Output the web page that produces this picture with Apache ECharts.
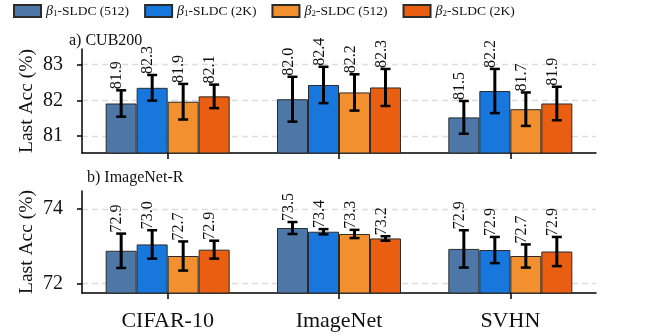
<!DOCTYPE html>
<html>
<head>
<meta charset="utf-8">
<script src="https://cdn.jsdelivr.net/npm/echarts@6/dist/echarts.min.js"></script>
<style>
  html, body { margin: 0; padding: 0; background: #fff; }
  #chart { width: 650px; height: 336px; }
</style>
</head>
<body>
<div id="chart"></div>
<script>
const categories = ["CIFAR-10", "ImageNet", "SVHN"]
const seriesNames = ["β1-SLDC (512)", "β1-SLDC (2K)", "β2-SLDC (512)", "β2-SLDC (2K)"]
const colors = ["#4c77a6", "#1877dd", "#f28f2f", "#e95e10"]

// a) CUB200
const cubMean = [
  [81.91, 82.03, 81.52],
  [82.35, 82.43, 82.26],
  [81.96, 82.22, 81.75],
  [82.11, 82.36, 81.91],
]
const cubErr = [
  [0.37, 0.63, 0.46],
  [0.36, 0.51, 0.62],
  [0.50, 0.51, 0.47],
  [0.33, 0.52, 0.47],
]
const cubLabels = [
  ["81.9", "82.0", "81.5"],
  ["82.3", "82.4", "82.2"],
  ["81.9", "82.2", "81.7"],
  ["82.1", "82.3", "81.9"],
]

// b) ImageNet-R
const imrMean = [
  [72.88, 73.49, 72.93],
  [73.05, 73.39, 72.90],
  [72.74, 73.33, 72.74],
  [72.91, 73.21, 72.86],
]
const imrErr = [
  [0.46, 0.16, 0.50],
  [0.38, 0.07, 0.35],
  [0.39, 0.11, 0.31],
  [0.24, 0.06, 0.39],
]
const imrLabels = [
  ["72.9", "73.5", "72.9"],
  ["73.0", "73.4", "72.9"],
  ["72.7", "73.3", "72.7"],
  ["72.9", "73.2", "72.9"],
]

const cubTicks = [81, 82, 83]
const imrTicks = [72, 74]

const serif = "Liberation Serif"
const barWidth = 31
const offsets = [-1.5, -0.5, 0.5, 1.5].map((k) => k * barWidth)

const chart = echarts.init(document.getElementById("chart"), null, { renderer: "canvas" })

const errRender = (offset, labels) => (params, api) => {
  const c = api.value(0)
  const base = api.coord([c, api.value(1)])
  const x = base[0] + offset
  const lo = api.coord([c, api.value(2)])[1]
  const hi = api.coord([c, api.value(3)])[1]
  const cap = 5
  return {
    type: "group",
    children: [
      { type: "line", shape: { x1: x, y1: lo, x2: x, y2: hi }, style: { stroke: "#000", lineWidth: 3 } },
      { type: "line", shape: { x1: x - cap, y1: lo, x2: x + cap, y2: lo }, style: { stroke: "#000", lineWidth: 2.5 } },
      { type: "line", shape: { x1: x - cap, y1: hi, x2: x + cap, y2: hi }, style: { stroke: "#000", lineWidth: 2.5 } },
      {
        type: "text",
        x: x - 4,
        y: hi - 1,
        rotation: Math.PI / 2,
        style: {
          text: labels[params.dataIndex],
          align: "left",
          verticalAlign: "middle",
          font: `16px "${serif}"`,
          fill: "#111",
        },
      },
    ],
  }
}

const series = []
const panels = [
  { mean: cubMean, err: cubErr, labels: cubLabels },
  { mean: imrMean, err: imrErr, labels: imrLabels },
]
panels.forEach((p, gi) => {
  p.mean.forEach((vals, si) => {
    series.push({
      name: seriesNames[si],
      type: "bar",
      xAxisIndex: gi,
      yAxisIndex: gi,
      barWidth,
      barGap: "0%",
      itemStyle: { color: colors[si], borderColor: "#2b2b2b", borderWidth: 1 },
      data: vals,
      z: 2,
    })
  })
  p.mean.forEach((vals, si) => {
    series.push({
      type: "custom",
      xAxisIndex: gi,
      yAxisIndex: gi,
      renderItem: errRender(offsets[si], p.labels[si]),
      data: vals.map((v, ci) => [ci, v, v - p.err[si][ci], v + p.err[si][ci]]),
      z: 5,
      silent: true,
    })
  })
})

const xAxisBase = (showLabels) => ({
  type: "category",
  data: categories,
  axisLine: { lineStyle: { color: "#000", width: 1.5 } },
  axisTick: { show: true, alignWithLabel: true, length: 6, lineStyle: { color: "#000", width: 1.5 } },
  axisLabel: { show: showLabels, color: "#111", fontFamily: serif, fontSize: 22, margin: 17 },
  splitLine: { show: false },
})

const yAxisBase = (min, max, ticks) => ({
  type: "value",
  min,
  max,
  name: "Last Acc (%)",
  nameLocation: "middle",
  nameRotate: 90,
  nameGap: 45,
  nameMoveOverlap: false,
  nameTextStyle: { color: "#111", fontFamily: serif, fontSize: 19.5 },
  axisLine: { show: true, lineStyle: { color: "#000", width: 1.5 } },
  axisTick: { show: true, length: 5, customValues: ticks, lineStyle: { color: "#000", width: 1.5 } },
  axisLabel: { color: "#111", fontFamily: serif, fontSize: 20, margin: 19, customValues: ticks },
  splitLine: { show: true, lineStyle: { color: "#dcdcdc", type: [6, 4], width: 1.3 } },
})

chart.setOption({
  backgroundColor: "#fff",
  animation: false,
  color: colors,
  title: [
    { text: "a) CUB200", left: 64, top: 28, textStyle: { fontFamily: serif, fontSize: 16, fontWeight: "normal", color: "#111" } },
    { text: "b) ImageNet-R", left: 82, top: 165, textStyle: { fontFamily: serif, fontSize: 16, fontWeight: "normal", color: "#111" } },
  ],
  legend: {
    data: seriesNames,
    left: 13,
    top: 4,
    padding: 0,
    itemWidth: 27,
    itemHeight: 12,
    itemGap: 15,
    icon: "rect",
    formatter: (name) => {
      const m = name.match(/^β(\d)(.*)$/)
      return `{b|β}{s|${m[1]}}{t|${m[2]}}`
    },
    textStyle: {
      color: "#111",
      fontFamily: serif,
      fontSize: 13.5,
      rich: {
        b: { fontFamily: serif, fontSize: 14, fontStyle: "italic", color: "#111" },
        s: { fontFamily: serif, fontSize: 9, color: "#111", verticalAlign: "bottom", padding: [6, 0, 0, 0] },
        t: { fontFamily: serif, fontSize: 13.5, color: "#111" },
      },
    },
  },
  grid: [
    { left: 82, right: 54, top: 49, height: 104 },
    { left: 82, right: 54, top: 191, height: 102 },
  ],
  xAxis: [Object.assign({ gridIndex: 0 }, xAxisBase(false)), Object.assign({ gridIndex: 1 }, xAxisBase(true))],
  yAxis: [
    Object.assign({ gridIndex: 0 }, yAxisBase(80.52, 83.44, cubTicks)),
    Object.assign({ gridIndex: 1 }, yAxisBase(71.75, 74.48, imrTicks)),
  ],
  series,
})
</script>
</body>
</html>
